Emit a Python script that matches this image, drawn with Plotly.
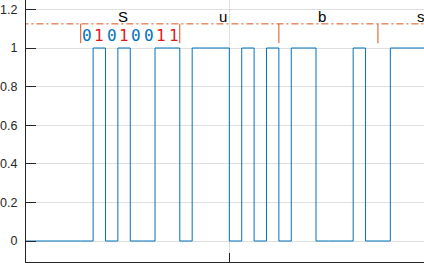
import plotly.graph_objects as go

# --- data ---
chars = ["S", "u", "b", "s"]
byte_starts = [0, 8, 16, 24]
bits = [0, 1, 0, 1, 0, 0, 1, 1,   # S
        0, 1, 1, 1, 0, 1, 0, 1,   # u
        0, 1, 1, 0, 0, 0, 1, 0,   # b
        0, 1, 1, 1, 0, 0, 1, 1]   # s
idle_start = -6
frame_level = 1.125
marker_low = 1.025
x_ticks = [12]

BLUE = "#0072BD"
ORANGE = "#D95319"
RED = "#D81B1B"
AX = "#262626"

# signal as step: idle zero, then bits
sx = [idle_start] + list(range(len(bits))) + [len(bits)]
sy = [0] + bits + [bits[-1]]

fig = go.Figure()

fig.add_trace(go.Scatter(
    x=sx, y=sy, mode="lines", line=dict(color=BLUE, width=1, shape="hv"),
    hoverinfo="skip", showlegend=False))

# dash-dot frame line
fig.add_trace(go.Scatter(
    x=[idle_start, len(bits) + 4], y=[frame_level, frame_level], mode="lines",
    line=dict(color=ORANGE, width=1, dash="7px,3px,2px,3px"),
    hoverinfo="skip", showlegend=False))

# byte boundary markers
mx, my = [], []
for b in byte_starts + [len(bits)]:
    mx += [b, b, None]
    my += [marker_low, frame_level, None]
fig.add_trace(go.Scatter(
    x=mx, y=my, mode="lines", line=dict(color=ORANGE, width=1),
    hoverinfo="skip", showlegend=False))

annotations = []
for c, s in zip(chars, byte_starts):
    annotations.append(dict(
        x=s + 3.45, y=1.163, text=c, showarrow=False, xanchor="center",
        yanchor="middle", font=dict(family="Liberation Sans, Arial", size=15, color="#000000")))

# bit labels for first byte
for i in range(8):
    b = bits[i]
    annotations.append(dict(
        x=i + 0.5, y=1.065, text=str(b), showarrow=False, xanchor="center",
        yanchor="middle",
        font=dict(family="DejaVu Sans Mono", size=16,
                  color=RED if b == 1 else BLUE)))

fig.update_layout(
    width=424, height=273,
    margin=dict(l=24, r=0, t=0, b=11),
    paper_bgcolor="white", plot_bgcolor="white",
    annotations=annotations,
    xaxis=dict(
        range=[-4.419, 27.72], tickvals=x_ticks, showticklabels=False,
        ticks="inside", ticklen=9, tickcolor=AX, tickwidth=1,
        showgrid=True, gridcolor="rgba(38,38,38,0.15)", gridwidth=1,
        showline=True, linecolor=AX, linewidth=1, zeroline=False),
    yaxis=dict(
        range=[-0.1088, 1.2487], tickvals=[0, 0.2, 0.4, 0.6, 0.8, 1, 1.2],
        ticktext=["0", "0.2", "0.4", "0.6", "0.8", "1", "1.2"],
        ticks="inside", ticklen=10, tickcolor=AX, tickwidth=1,
        tickfont=dict(family="Liberation Sans, Arial", size=12.5, color=AX),
        ticklabelstandoff=5,
        showgrid=True, gridcolor="rgba(38,38,38,0.15)", gridwidth=1,
        showline=True, linecolor=AX, linewidth=1, zeroline=False),
)

fig.write_html("out.html")
